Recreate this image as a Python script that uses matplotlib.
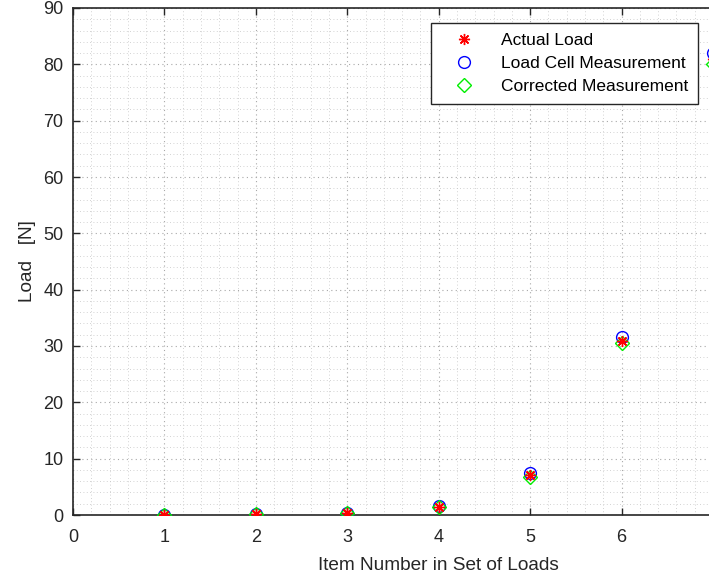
import matplotlib
matplotlib.use("Agg")
import matplotlib.pyplot as plt
from matplotlib.ticker import MultipleLocator

plt.rcParams['font.family'] = ['Liberation Sans', 'DejaVu Sans']

# Load set data
item_number = [1, 2, 3, 4, 5, 6, 7]
actual_load = [0.0, 0.1, 0.4, 1.5, 7.1, 30.9, 81.0]
load_cell = [0.0, 0.1, 0.4, 1.6, 7.5, 31.6, 82.0]
corrected = [0.0, 0.1, 0.35, 1.4, 6.8, 30.5, 80.1]

x_ticks = [0, 1, 2, 3, 4, 5, 6, 7, 8]
y_ticks = [0, 10, 20, 30, 40, 50, 60, 70, 80, 90]

W, H = 709, 575
fig = plt.figure(figsize=(W / 100, H / 100), dpi=100)
ax_left, ax_bottom, ax_top = 73, 515, 8
ax_right = 73 + 8 * 91.43
ax = fig.add_axes([ax_left / W, 1 - ax_bottom / H,
                   (ax_right - ax_left) / W, (ax_bottom - ax_top) / H])

ax.plot(item_number, actual_load, linestyle='none', marker=(8, 2, 0), color='red',
        markersize=8, markeredgewidth=1.0, label='Actual Load', zorder=5)
ax.plot(item_number, load_cell, linestyle='none', marker='o', markerfacecolor='none',
        markeredgecolor='blue', markersize=8.5, markeredgewidth=1.0,
        label='Load Cell Measurement', zorder=4)
ax.plot(item_number, corrected, linestyle='none', marker='D', markerfacecolor='none',
        markeredgecolor='#00ee00', markersize=7, markeredgewidth=1.0,
        label='Corrected Measurement', zorder=4)

ax.set_xlim(0, 8)
ax.set_ylim(0, 90)
ax.set_xticks(x_ticks)
ax.set_yticks(y_ticks)
ax.xaxis.set_minor_locator(MultipleLocator(0.2))
ax.yaxis.set_minor_locator(MultipleLocator(2))
ax.grid(True, which='major', linestyle=(0, (1, 3)), color='#a8a8a8', linewidth=0.8)
ax.grid(True, which='minor', linestyle=(0, (1, 3)), color='#c4c4c4', linewidth=0.6)
ax.set_axisbelow(True)

ax.tick_params(which='major', direction='in', length=5, width=1, labelsize=13,
               colors='#262626', top=True, right=True)
ax.tick_params(axis='x', which='major', pad=10)
ax.tick_params(axis='y', which='major', pad=7)
ax.tick_params(which='minor', length=0)
for s in ax.spines.values():
    s.set_color('#262626')
    s.set_linewidth(1.2)

ax.set_xlabel('Item Number in Set of Loads', fontsize=13.7, color='#262626', labelpad=8)
ax.set_ylabel('Load   [N]', fontsize=13.7, color='#262626', labelpad=5)

anchor = ((431 - ax_left) / (ax_right - ax_left),
          1 - (23 - ax_top) / (ax_bottom - ax_top))
leg = ax.legend(loc='upper left', bbox_to_anchor=anchor,
                fontsize=12.5, frameon=True, fancybox=False, edgecolor='#262626',
                borderaxespad=0, handlelength=2.68, handletextpad=0.79, borderpad=0.55,
                labelspacing=0.47)
leg.get_frame().set_linewidth(1.0)
leg.get_frame().set_alpha(1)

fig.savefig('out.png', dpi=100)
